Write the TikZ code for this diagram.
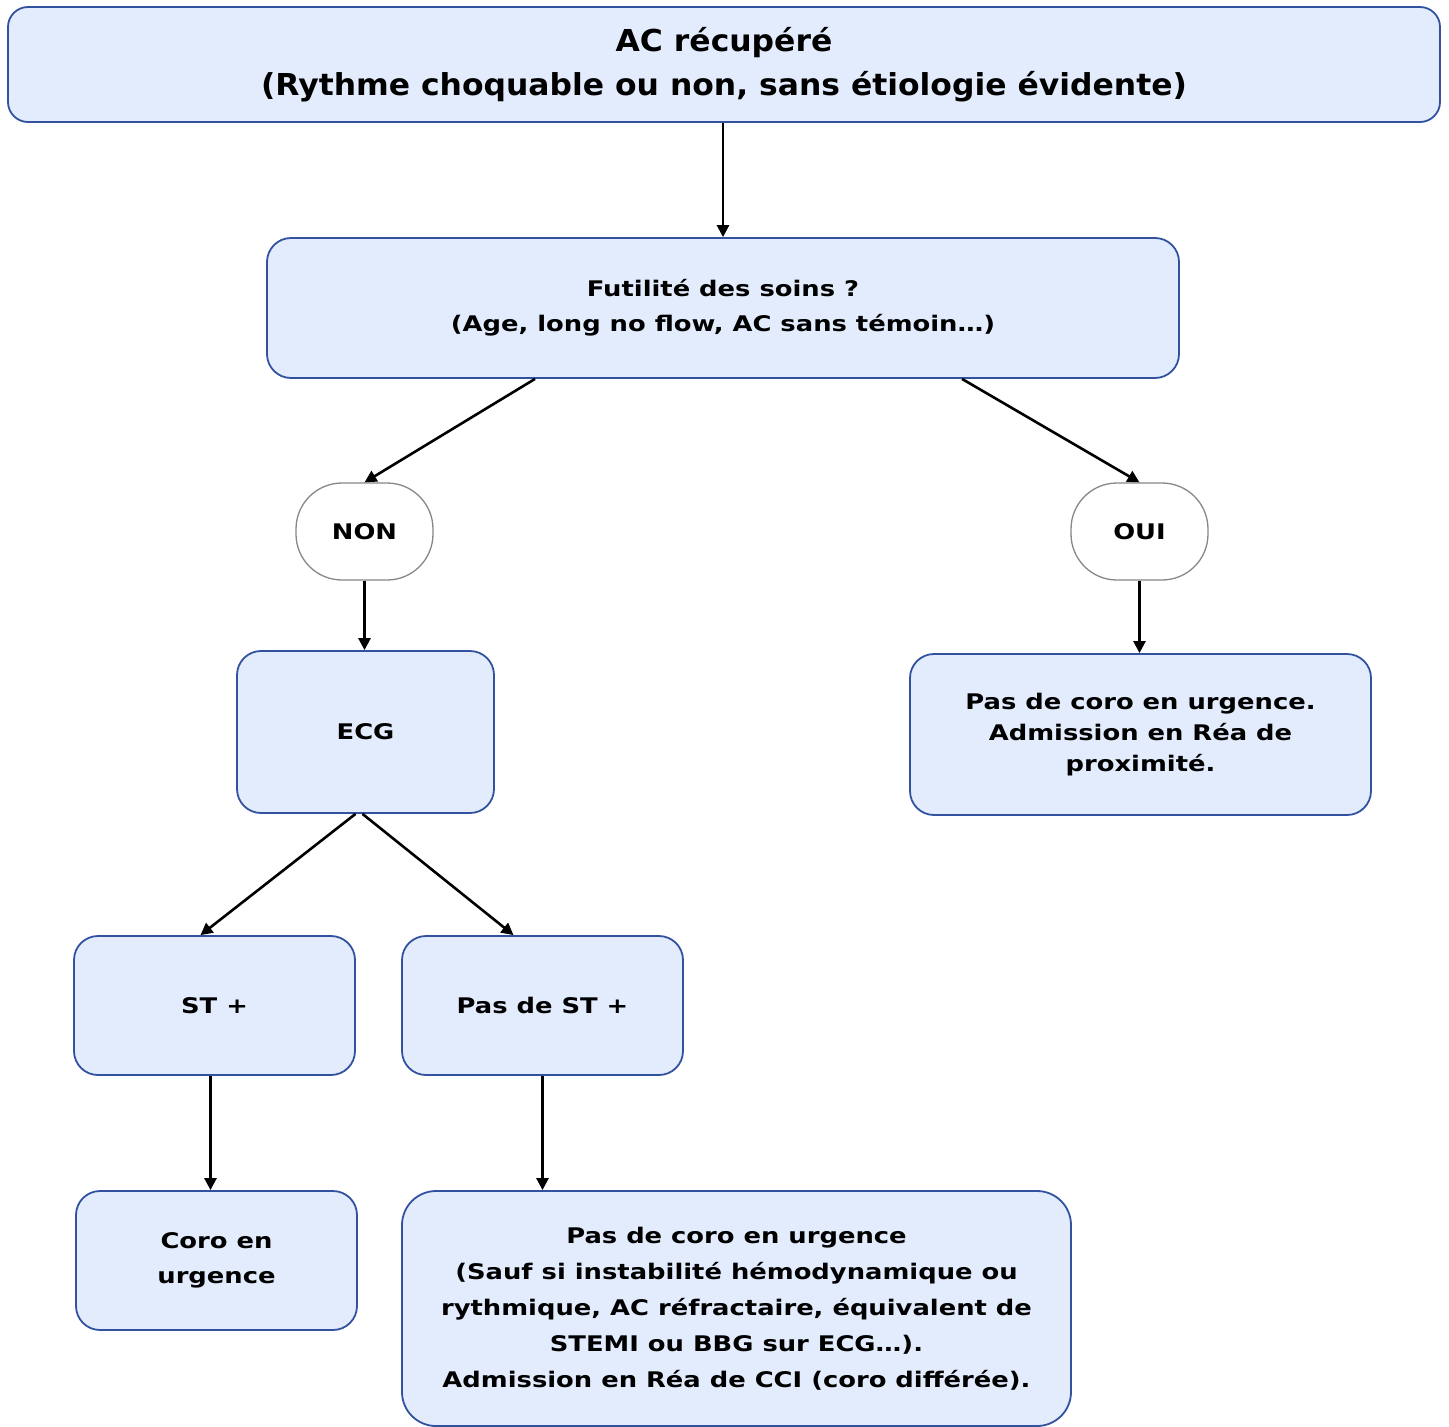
\documentclass[tikz,border=0pt]{standalone}
\usepackage{fontspec}
\setmainfont[FakeStretch=1.2]{DejaVu Sans}
\newfontfamily\titrefont[FakeStretch=1.04]{DejaVu Sans}
\usetikzlibrary{arrows.meta}
\definecolor{fondbloc}{RGB}{227,236,253}
\definecolor{traitbloc}{RGB}{50,82,160}
\definecolor{traitchoix}{RGB}{135,135,135}
\begin{document}
\begin{tikzpicture}[x=1pt, y=-1pt, line join=round, >={Triangle[length=12pt,width=12pt]},
	bloc/.style={draw=traitbloc, fill=fondbloc, line width=1.8pt, rounded corners=24pt, align=center, inner sep=0pt, font=\bfseries\fontsize{21.5}{35}\selectfont},
	choix/.style={draw=traitchoix, fill=white, line width=1.3pt, rounded corners=46pt, align=center, inner sep=0pt, font=\bfseries\fontsize{21.5}{30}\selectfont},
	fleche/.style={->, line width=2.6pt}]
	\useasboundingbox (0,0) rectangle (1449,1427);
	% blocs
	\node[bloc, minimum width=1432pt, minimum height=115pt, rounded corners=20pt, font=\titrefont\bfseries\fontsize{30.2}{44}\selectfont] (recup) at (724,64.5) {AC récupéré\\(Rythme choquable ou non, sans étiologie évidente)};
	\node[bloc, minimum width=912pt, minimum height=140pt] (futil) at (723,308) {Futilité des soins ?\\(Age, long no flow, AC sans témoin…)};
	\node[choix, minimum width=137pt, minimum height=97pt] (non) at (364.5,531.5) {NON};
	\node[choix, minimum width=137pt, minimum height=97pt] (oui) at (1139.5,531.5) {OUI};
	\node[bloc, minimum width=257pt, minimum height=162pt] (ecg) at (365.5,732) {ECG};
	\node[bloc, minimum width=461pt, minimum height=161pt, font=\bfseries\fontsize{21.5}{31}\selectfont] (pascoro) at (1140.5,734.5) {Pas de coro en urgence.\\Admission en Réa de\\proximité.};
	\node[bloc, minimum width=281pt, minimum height=139pt] (stp) at (214.5,1005.5) {ST +};
	\node[bloc, minimum width=281pt, minimum height=139pt] (passt) at (542.5,1005.5) {Pas de ST +};
	\node[bloc, minimum width=281pt, minimum height=139pt] (coro) at (216.5,1260.5) {Coro en\\urgence};
	\node[bloc, minimum width=669pt, minimum height=235pt, rounded corners=34pt, font=\bfseries\fontsize{21.5}{36}\selectfont] (differe) at (736.5,1308.5) {Pas de coro en urgence\\(Sauf si instabilité hémodynamique ou\\rythmique, AC réfractaire, équivalent de\\STEMI ou BBG sur ECG…).\\Admission en Réa de CCI (coro différée).};
	% fleches
	\draw[fleche] (recup.south -| futil.north) -- (futil.north);
	\draw[fleche] ([xshift=-188pt]futil.south) -- (non.north);
	\draw[fleche] ([xshift=239pt]futil.south) -- (oui.north);
	\draw[fleche] (non.south) -- (non.south |- ecg.north);
	\draw[fleche] (oui.south) -- (oui.south |- pascoro.north);
	\draw[fleche] ([xshift=-10pt]ecg.south) -- ([xshift=-14pt]stp.north);
	\draw[fleche] ([xshift=-3pt]ecg.south) -- ([xshift=-29pt]passt.north);
	\draw[fleche] ([xshift=-4pt]stp.south) -- ([xshift=-4pt]stp.south |- coro.north);
	\draw[fleche] (passt.south) -- (passt.south |- differe.north);
\end{tikzpicture}
\end{document}
